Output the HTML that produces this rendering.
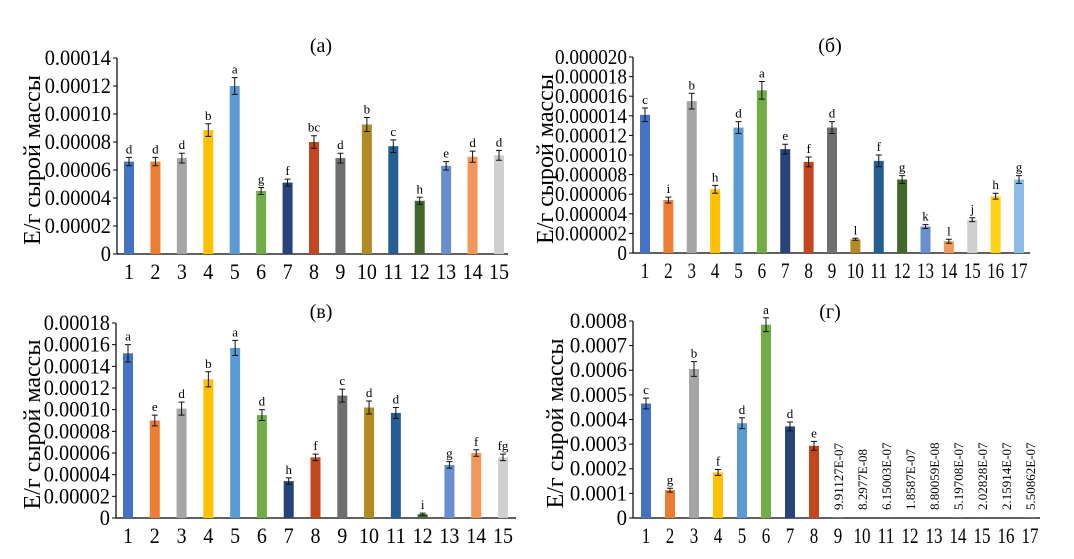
<!DOCTYPE html>
<html><head><meta charset="utf-8"><style>
html,body{margin:0;padding:0;background:#fff;}
svg{display:block;}
svg text{font-family:"Liberation Serif","Times New Roman",serif;}
</style></head><body>
<svg id="chart" width="1074" height="559" viewBox="0 0 1074 559" xmlns="http://www.w3.org/2000/svg"></svg>
<script>
const colors=["#4472C4","#ED7D31","#A5A5A5","#FFC000","#5B9BD5","#70AD47","#264478","#C4461C","#6E6E6E","#B08A22","#255E91","#43682B","#698ED0","#F1975A","#CFCFCF","#FFD21A","#8CBDE8"];
// Panel (a)
const aCats=["1","2","3","4","5","6","7","8","9","10","11","12","13","14","15"];
const aVals=[6.6e-5,6.6e-5,6.85e-5,8.85e-5,1.2e-4,4.5e-5,5.1e-5,8.0e-5,6.85e-5,9.25e-5,7.7e-5,3.8e-5,6.3e-5,6.95e-5,7.05e-5];
const aErr=[3e-6,3e-6,3.5e-6,4.5e-6,6e-6,2.5e-6,2.5e-6,4.5e-6,3.5e-6,5e-6,4.5e-6,2.5e-6,3e-6,4e-6,3.5e-6];
const aLetters=["d","d","d","b","a","g","f","bc","d","b","c","h","e","d","d"];
const aTicks=["0","0.00002","0.00004","0.00006","0.00008","0.00010","0.00012","0.00014"];
// Panel (б)
const bCats=["1","2","3","4","5","6","7","8","9","10","11","12","13","14","15","16","17"];
const bVals=[1.41e-5,5.4e-6,1.55e-5,6.5e-6,1.28e-5,1.66e-5,1.06e-5,9.3e-6,1.28e-5,1.4e-6,9.4e-6,7.5e-6,2.7e-6,1.2e-6,3.4e-6,5.8e-6,7.5e-6];
const bErr=[7e-7,3e-7,8e-7,4e-7,6e-7,9e-7,5e-7,5e-7,6e-7,1e-7,6e-7,4e-7,2e-7,2e-7,2e-7,3e-7,4e-7];
const bLetters=["c","i","b","h","d","a","e","f","d","l","f","g","k","l","j","h","g"];
const bTicks=["0","0.000002","0.000004","0.000006","0.000008","0.000010","0.000012","0.000014","0.000016","0.000018","0.000020"];
// Panel (в)
const vCats=["1","2","3","4","5","6","7","8","9","10","11","12","13","14","15"];
const vVals=[1.52e-4,9.0e-5,1.01e-4,1.28e-4,1.57e-4,9.5e-5,3.4e-5,5.6e-5,1.13e-4,1.02e-4,9.7e-5,3.5e-6,4.9e-5,6.0e-5,5.6e-5];
const vErr=[8e-6,5e-6,6e-6,7e-6,7e-6,5e-6,3e-6,3e-6,6e-6,6e-6,5e-6,1e-6,3e-6,3e-6,3e-6];
const vLetters=["a","e","d","b","a","d","h","f","c","d","d","i","g","f","fg"];
const vTicks=["0","0.00002","0.00004","0.00006","0.00008","0.00010","0.00012","0.00014","0.00016","0.00018"];
// Panel (г)
const gCats=["1","2","3","4","5","6","7","8","9","10","11","12","13","14","15","16","17"];
const gVals=[4.65e-4,1.13e-4,6.05e-4,1.85e-4,3.85e-4,7.85e-4,3.72e-4,2.93e-4,9.91127e-7,8.2977e-8,6.15003e-7,1.8587e-7,8.80059e-8,5.19708e-7,2.02828e-7,2.15914e-7,5.50862e-7];
const gErr=[2.2e-5,8e-6,3e-5,1.2e-5,2.2e-5,2.8e-5,1.8e-5,1.8e-5,0,0,0,0,0,0,0,0,0];
const gLetters=["c","g","b","f","d","a","d","e","","","","","","","","",""];
const gValueText=["","","","","","","","","9.91127E-07","8.2977E-08","6.15003E-07","1.8587E-07","8.80059E-08","5.19708E-07","2.02828E-07","2.15914E-07","5.50862E-07"];
const gTicks=["0","0.0001","0.0002","0.0003","0.0004","0.0005","0.0006","0.0007","0.0008"];

const NS="http://www.w3.org/2000/svg";
const svg=document.getElementById("chart");
const FF='"Liberation Serif","Times New Roman",serif';
function mk(tag,attrs,parent){const e=document.createElementNS(NS,tag);for(const k in attrs)e.setAttribute(k,attrs[k]);if(tag==="text")e.setAttribute("font-family",FF);(parent||svg).appendChild(e);return e;}
function fitWidth(t,target,ax,ay){
  let w=0;try{w=t.getComputedTextLength();}catch(e){}
  if(!w||!target)return;
  const s=target/w;
  t.setAttribute("transform",`translate(${ax} ${ay}) scale(${s} 1) translate(${-ax} ${-ay})`);
}

function panel(key,title,cats,vals,errs,letters,ticks,ax){
  const g=mk("g",{});
  
  
  const maxV=parseFloat(ticks[ticks.length-1]);
  const y=v=>ax.y0-(v/maxV)*(ax.y0-ax.yTop);
  const x=i=>ax.x1+i*(ax.xN-ax.x1)/(cats.length-1);
  const yl=mk("line",{x1:ax.xa,y1:ax.yTop,x2:ax.xa,y2:ax.y0,stroke:"#000","stroke-width":1.2},g);
  
  
  const xl=mk("line",{x1:ax.xa,y1:ax.y0,x2:ax.xEnd,y2:ax.y0,stroke:"#000","stroke-width":1.2},g);
  
  
  ticks.forEach((t,i)=>{
    const ty=y(parseFloat(t));
    mk("line",{x1:ax.xa-4,y1:ty,x2:ax.xa,y2:ty,stroke:"#000","stroke-width":1},g);
    const tx=mk("text",{x:ax.xa-6,y:ty+7,"text-anchor":"end","font-size":ax.fs},g);
    tx.textContent=t;
    
    
    if(t.length>1) fitWidth(tx,ax.cw*(t.length-0.5),ax.xa-6,ty+7);
    else fitWidth(tx,ax.cw,ax.xa-6,ty+7);
  });
  cats.forEach((c,i)=>{
    const cx=x(i);
    const tx=mk("text",{x:cx,y:ax.y0+25,"text-anchor":"middle","font-size":22},g);
    tx.textContent=c;
    
    
    fitWidth(tx,ax.dw*c.length,cx,ax.y0+25);
    const v=vals[i], top=y(v);
    const r=mk("rect",{x:cx-5,y:top,width:10,height:ax.y0-top,fill:colors[i]},g);
    
    
    const e=errs[i];
    if(e>0){
      const e1=y(v+e),e2=y(v-e);
      mk("path",{d:`M${cx},${e1}V${e2}M${cx-3},${e1}H${cx+3}M${cx-3},${e2}H${cx+3}`,stroke:"#111","stroke-width":1,fill:"none"},g);
      const lt=mk("text",{x:cx,y:e1-4,"text-anchor":"middle","font-size":13},g);
      lt.textContent=letters[i];
      
      
    }
    if(ax.valText && ax.valText[i]){
      const vt=mk("text",{x:cx+5,y:ax.y0-8,"font-size":13,transform:`rotate(-90 ${cx+5} ${ax.y0-8})`},g);
      vt.textContent=ax.valText[i];
      
      
    }
  });
  const tt=mk("text",{x:ax.tx,y:ax.ty,"text-anchor":"middle","font-size":20},g);
  tt.textContent=title;
  
  
  const cy=(ax.yTop+ax.y0)/2+4;
  const yt=mk("text",{x:ax.ytx,y:cy,"text-anchor":"middle","font-size":24,transform:`rotate(-90 ${ax.ytx} ${cy})`},g);
  yt.textContent="Е/г сырой массы";
  
  
}
panel("a","(а)",aCats,aVals,aErr,aLetters,aTicks,{xa:117,yTop:58,y0:254,x1:129,xN:499,xEnd:508,fs:22,cw:10.2,dw:10,tx:321,ty:52,ytx:40});
panel("b","(б)",bCats,bVals,bErr,bLetters,bTicks,{xa:633,yTop:57,y0:253,x1:645,xN:1019,xEnd:1030,fs:21,cw:9.6,dw:8.5,tx:830,ty:52,ytx:553});
panel("v","(в)",vCats,vVals,vErr,vLetters,vTicks,{xa:116,yTop:323,y0:518,x1:128,xN:503,xEnd:516,fs:22,cw:10.2,dw:10,tx:321,ty:318,ytx:40});
panel("g","(г)",gCats,gVals,gErr,gLetters,gTicks,{xa:633,yTop:321,y0:518,x1:646,xN:1030,xEnd:1040,fs:22,cw:10.4,dw:8.5,tx:830,ty:318,ytx:563,valText:gValueText});
</script>
</body></html>
